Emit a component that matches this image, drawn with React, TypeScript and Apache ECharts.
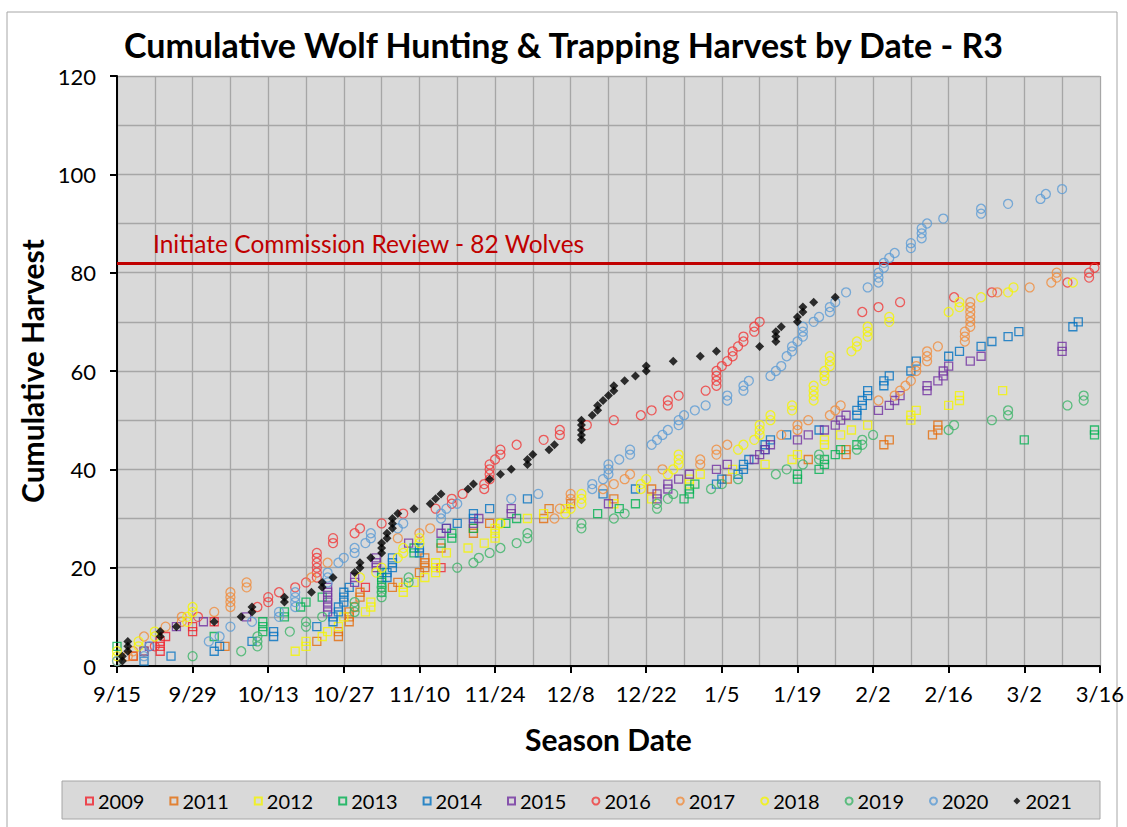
import React, { useEffect, useRef } from "react";
import * as echarts from "echarts";

const X_TICK_LABELS = ["9/15", "9/29", "10/13", "10/27", "11/10", "11/24", "12/8", "12/22", "1/5", "1/19", "2/2", "2/16", "3/2", "3/16"];
const YEARS = ["2009", "2011", "2012", "2013", "2014", "2015", "2016", "2017", "2018", "2019", "2020", "2021"];
const THRESHOLD = 82;

// [season day (0 = 9/15), cumulative harvest]
const s2009 = [[3,2],[8,3],[8,4],[8,5],[9,6],[14,7],[14,8],[18,9],[46,16],[60,20]];
const s2011 = [[3,2],[5,3],[20,4],[37,5],[41,6],[41,7],[43,9],[43,10],[43,11],[44,12],[45,14],[45,15],[51,16],[52,17],[56,19],[57,20],[57,21],[57,22],[60,24],[66,27],[66,28],[69,29],[79,30],[80,32],[84,33],[92,34],[99,36],[113,38],[128,42],[135,43],[135,44],[142,45],[143,46],[151,47],[152,48],[152,49]];
const s2012 = [[33,3],[35,4],[35,5],[38,6],[39,7],[41,8],[42,10],[46,11],[47,12],[47,13],[53,15],[53,16],[55,17],[57,18],[59,19],[59,20],[59,21],[61,23],[65,24],[68,25],[70,26],[70,27],[70,28],[71,29],[76,30],[79,31],[83,32],[92,33],[99,34],[106,37],[106,38],[108,39],[114,40],[120,41],[125,42],[126,43],[131,45],[131,46],[134,47],[136,48],[139,49],[147,50],[147,51],[148,52],[154,53],[156,54],[156,55],[164,56]];
const s2013 = [[0,4],[18,6],[27,7],[27,8],[27,9],[31,10],[31,11],[34,12],[35,13],[38,14],[49,15],[49,16],[49,17],[49,18],[49,19],[55,23],[55,24],[60,25],[62,26],[62,27],[66,28],[72,29],[74,30],[89,31],[93,32],[96,33],[105,34],[106,35],[106,36],[107,37],[126,38],[126,39],[130,40],[131,41],[131,42],[133,43],[134,44],[137,45],[168,46],[181,47],[181,48]];
const s2014 = [[5,1],[10,2],[18,3],[19,4],[25,5],[29,6],[29,7],[37,8],[40,9],[40,10],[41,11],[41,12],[42,13],[42,14],[42,15],[43,16],[50,18],[50,19],[51,20],[51,21],[51,22],[56,23],[56,24],[61,28],[63,29],[66,30],[66,31],[69,32],[76,34],[90,35],[96,36],[111,37],[112,38],[115,39],[116,40],[116,41],[117,42],[120,44],[120,45],[121,46],[124,47],[130,48],[137,51],[137,52],[138,53],[138,54],[139,55],[139,56],[142,57],[142,58],[143,59],[147,60],[148,62],[154,63],[156,64],[160,65],[162,66],[165,67],[167,68],[177,69],[178,70]];
const s2015 = [[5,3],[6,4],[11,8],[16,9],[24,10],[39,11],[39,12],[39,13],[39,14],[39,15],[39,16],[44,17],[44,18],[48,20],[48,21],[48,22],[54,25],[60,27],[61,28],[66,29],[67,30],[73,31],[73,32],[91,33],[100,34],[100,35],[102,36],[102,37],[104,38],[106,39],[111,40],[113,41],[118,42],[119,43],[120,44],[121,45],[126,46],[128,47],[131,48],[133,49],[134,50],[135,51],[141,52],[143,53],[144,54],[145,55],[150,56],[150,57],[152,58],[153,59],[153,60],[154,61],[158,62],[160,63],[175,64],[175,65]];
const s2016 = [[5,3],[7,4],[15,10],[26,12],[28,13],[28,14],[30,15],[33,16],[35,17],[37,18],[37,19],[37,20],[37,21],[37,22],[37,23],[40,25],[40,26],[44,27],[45,28],[49,29],[53,31],[59,32],[62,33],[62,34],[64,35],[68,36],[68,37],[69,38],[69,39],[69,40],[69,41],[70,42],[71,43],[71,44],[74,45],[79,46],[82,47],[82,48],[87,49],[92,50],[97,51],[99,52],[102,53],[102,54],[104,55],[109,56],[111,57],[111,58],[111,59],[111,60],[112,61],[113,62],[114,63],[114,64],[115,65],[116,66],[116,67],[118,68],[118,69],[119,70],[138,72],[141,73],[145,74],[155,75],[162,76],[176,78],[180,79],[180,80],[181,81]];
const s2017 = [[2,2],[3,3],[5,6],[9,8],[12,9],[12,10],[18,11],[21,12],[21,13],[21,14],[21,15],[24,16],[24,17],[36,18],[39,21],[52,26],[56,27],[58,28],[81,30],[82,32],[84,34],[84,35],[90,36],[92,37],[94,38],[95,39],[101,40],[108,41],[108,42],[111,43],[111,44],[113,45],[123,47],[126,48],[126,49],[128,50],[132,51],[133,52],[134,53],[141,54],[144,55],[145,56],[146,57],[147,58],[148,60],[148,61],[150,62],[150,63],[150,64],[152,65],[157,66],[157,67],[157,68],[158,69],[158,70],[158,71],[158,72],[158,73],[158,74],[163,76],[169,77],[173,78],[174,79],[174,80]];
const s2018 = [[0,1],[0,2],[0,3],[4,4],[4,5],[7,6],[7,7],[13,9],[13,10],[14,11],[14,12],[45,18],[48,19],[49,20],[52,22],[53,23],[53,24],[56,25],[56,26],[71,29],[83,31],[84,32],[86,33],[86,34],[86,35],[97,36],[97,37],[98,38],[102,39],[103,40],[104,41],[104,42],[104,43],[115,44],[116,45],[118,46],[119,47],[119,48],[119,49],[121,50],[121,51],[125,52],[125,53],[129,54],[129,55],[129,56],[129,57],[131,58],[131,59],[131,60],[132,61],[132,62],[132,63],[136,64],[137,65],[137,66],[139,67],[139,68],[139,69],[143,70],[143,71],[154,72],[156,73],[156,74],[160,75],[165,76],[166,77],[177,78]];
const s2019 = [[14,2],[23,3],[26,4],[26,5],[26,6],[32,7],[35,8],[35,9],[38,10],[44,11],[44,12],[44,13],[49,14],[49,15],[49,16],[54,17],[54,18],[63,20],[66,21],[67,22],[69,23],[71,24],[74,25],[76,26],[76,27],[86,28],[86,29],[92,30],[94,31],[100,32],[100,33],[102,34],[103,35],[110,36],[112,37],[115,38],[122,39],[124,40],[127,41],[130,42],[130,43],[137,44],[138,45],[138,46],[140,47],[154,48],[155,49],[162,50],[165,51],[165,52],[176,53],[179,54],[179,55]];
const s2020 = [[0,1],[5,2],[5,3],[6,4],[17,5],[19,6],[21,8],[25,9],[30,10],[30,11],[33,12],[33,13],[33,14],[33,15],[39,17],[39,18],[39,19],[41,21],[42,22],[44,23],[44,24],[46,25],[47,26],[47,27],[52,28],[53,29],[60,30],[60,31],[61,32],[63,33],[73,34],[78,35],[88,36],[88,37],[90,38],[91,39],[91,40],[91,41],[93,42],[95,43],[95,44],[99,45],[100,46],[101,47],[102,48],[104,49],[104,50],[105,51],[107,52],[109,53],[113,54],[113,55],[116,56],[116,57],[117,58],[121,59],[122,60],[123,61],[124,63],[125,64],[125,65],[126,66],[127,67],[127,68],[127,69],[129,70],[130,71],[132,72],[132,73],[133,74],[135,76],[139,77],[141,78],[141,79],[141,80],[142,81],[142,82],[143,83],[144,84],[147,85],[147,86],[149,87],[149,88],[149,89],[150,90],[153,91],[160,92],[160,93],[165,94],[171,95],[172,96],[175,97]];
const s2021 = [[1,1],[1,2],[2,3],[2,4],[2,5],[8,6],[8,7],[11,8],[18,9],[23,10],[25,11],[25,12],[31,13],[31,14],[36,15],[38,16],[38,17],[40,18],[44,19],[45,20],[45,21],[47,22],[49,23],[49,24],[49,25],[50,26],[50,27],[51,28],[51,29],[51,30],[52,31],[55,32],[58,33],[59,34],[60,35],[65,36],[66,37],[69,38],[71,39],[73,40],[76,41],[76,42],[77,43],[80,44],[81,45],[86,46],[86,47],[86,48],[86,49],[86,50],[88,51],[89,52],[89,53],[90,54],[91,55],[92,56],[92,57],[94,58],[96,59],[98,60],[98,61],[103,62],[108,63],[111,64],[119,65],[122,66],[122,67],[122,68],[123,69],[126,70],[126,71],[127,72],[127,73],[129,74],[133,75]];

const SERIES_DATA = [s2009, s2011, s2012, s2013, s2014, s2015, s2016, s2017, s2018, s2019, s2020, s2021];
const COLORS = ["#F0202A", "#E46C0A", "#F5F500", "#00B050", "#0070C0", "#7030A0", "#F03A3A", "#F08C3C", "#F5F500", "#3CB468", "#5B9BD5", "#000000"];
const SYMBOLS = ["rect", "rect", "rect", "rect", "rect", "rect", "circle", "circle", "circle", "circle", "circle", "diamond"];

const FONT = "Lato";

export default function App() {
  const ref = useRef<HTMLDivElement>(null);
  useEffect(() => {
    if (!ref.current) return;
    const chart = echarts.init(ref.current, null, { renderer: "svg" });
    const series: any[] = YEARS.map((y, i) => {
      const filled = SYMBOLS[i] === "diamond";
      return {
        name: y,
        type: "scatter",
        data: SERIES_DATA[i],
        symbol: SYMBOLS[i],
        symbolSize: filled ? 9 : SYMBOLS[i] === "rect" ? 8 : 9,
        itemStyle: filled
          ? { color: COLORS[i] }
          : { color: "rgba(0,0,0,0)", borderColor: COLORS[i], borderWidth: 1.3 },
        z: 2 + i,
      };
    });
    series.push({
      type: "scatter",
      data: [],
      markLine: {
        silent: true,
        symbol: "none",
        lineStyle: { color: "#C00000", width: 3, type: "solid" },
        label: {
          show: true,
          position: "insideStartTop",
          formatter: "Initiate Commission Review - " + THRESHOLD + " Wolves",
          color: "#C00000",
          fontFamily: FONT,
          fontSize: 24.5,
          distance: [36, 7],
        },
        data: [{ yAxis: THRESHOLD }],
      },
      z: 20,
    });
    chart.setOption({
      animation: false,
      backgroundColor: "#FFFFFF",
      title: {
        text: "Cumulative Wolf Hunting & Trapping Harvest by Date - R3",
        left: "center",
        top: 22,
        textStyle: { fontFamily: FONT, fontSize: 34, fontWeight: "bold", color: "#000" },
      },
      graphic: [
        {
          type: "rect",
          shape: { x: 7, y: 12, width: 1110, height: 830 },
          style: { fill: "none", stroke: "#A6A6A6", lineWidth: 1 },
          silent: true,
          z: -10,
        },
        {
          type: "rect",
          shape: { x: 62, y: 781, width: 1038, height: 38 },
          style: { fill: "#D9D9D9", stroke: "#A6A6A6", lineWidth: 1 },
          silent: true,
          z: -5,
        },
      ],
      grid: {
        left: 117,
        right: 23,
        top: 76,
        bottom: 161,
        show: true,
        backgroundColor: "#D9D9D9",
        borderWidth: 0,
      },
      legend: {
        data: YEARS,
        left: 80,
        top: 786,
        itemWidth: 7,
        itemHeight: 7,
        itemGap: 25,
        textStyle: { fontFamily: FONT, fontSize: 20, color: "#000" },
      },
      xAxis: {
        type: "value",
        min: 0,
        max: 182,
        interval: 14,
        name: "Season Date",
        nameLocation: "middle",
        nameGap: 58,
        nameTextStyle: { fontFamily: FONT, fontSize: 30, fontWeight: "bold", color: "#000" },
        axisLine: { show: true, lineStyle: { color: "#000", width: 2 } },
        axisTick: { show: true, length: 7, lineStyle: { color: "#000", width: 2 } },
        axisLabel: {
          fontFamily: FONT,
          fontSize: 22,
          color: "#000",
          margin: 16,
          formatter: (v: number) => X_TICK_LABELS[Math.round(v / 14)] ?? "",
        },
        splitLine: { show: true, lineStyle: { color: "#A6A6A6", width: 1.3 } },
        minorTick: { show: false, splitNumber: 2 },
        minorSplitLine: { show: true, lineStyle: { color: "#A6A6A6", width: 1.3 } },
      },
      yAxis: {
        type: "value",
        min: 0,
        max: 120,
        interval: 20,
        name: "Cumulative Harvest",
        nameLocation: "middle",
        nameGap: 70,
        nameTextStyle: { fontFamily: FONT, fontSize: 30, fontWeight: "bold", color: "#000" },
        axisLine: { show: true, lineStyle: { color: "#000", width: 2 } },
        axisTick: { show: true, length: 7, lineStyle: { color: "#000", width: 2 } },
        axisLabel: { fontFamily: FONT, fontSize: 22, color: "#000", margin: 21 },
        splitLine: { show: true, lineStyle: { color: "#A6A6A6", width: 1.3 } },
        minorTick: { show: false, splitNumber: 2 },
        minorSplitLine: { show: true, lineStyle: { color: "#A6A6A6", width: 1.3 } },
      },
      series,
    });
    return () => chart.dispose();
  }, []);
  return (
    <div
      ref={ref}
      style={{ position: "absolute", left: 0, top: 0, width: 1127, height: 827 }}
    />
  );
}
